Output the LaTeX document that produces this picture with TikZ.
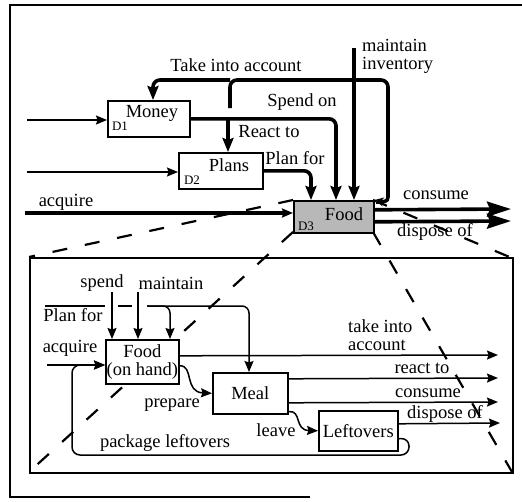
\documentclass[tikz,border=0pt]{standalone}
\usepackage{fontspec}
\setmainfont{Liberation Serif}
\usetikzlibrary{arrows.meta,positioning}

\tikzset{
  box/.style={draw,line width=1.6pt,fill=white,inner sep=0pt},
  flow/.style={line width=1.5pt},
  bigflow/.style={line width=3.6pt},
  tip/.style={-{Stealth[length=11pt,width=9pt,inset=1.5pt]}},
  bigtip/.style={-{Stealth[length=14pt,width=11pt,inset=2pt]}},
  hugetip/.style={-{Stealth[length=24pt,width=15pt,inset=3pt]}},
  zoomline/.style={line width=2.2pt,dash pattern=on 15pt off 18pt},
  lbl/.style={inner sep=0pt},
  tag/.style={inner sep=0pt,font=\fontsize{13}{13}\selectfont}
}

\begin{document}
\begin{tikzpicture}[x=1pt,y=-1pt,>=Stealth,font=\fontsize{18.5}{18}\selectfont]
\useasboundingbox (0,0) rectangle (522,501);
% frame
\draw[line width=1.6pt] (522,5) -- (10,5) -- (10,497) -- (310,497);

% zoom lines (drawn first, boxes sit on top)
\coordinate (fnw) at (293,200);
\coordinate (fne) at (373,200);
\coordinate (fsw) at (293,232);
\coordinate (fse) at (373,232);
\draw[zoomline] (fnw) -- (29,257);
\draw[zoomline] (fsw) -- (29,472);
\draw[zoomline] (fse) -- (512,472);
\draw[zoomline] (fne) -- (512,258);

% upper level boxes
\node[box,minimum width=82pt,minimum height=36pt,anchor=north west] (money) at (107,100) {};
\node[box,minimum width=84pt,minimum height=36pt,anchor=north west] (plans) at (178,152) {};
\node[box,fill=black!28,minimum width=80pt,minimum height=32pt,anchor=north west] (food) at (293,200) {};
\node[lbl] at (152,113) {Money};
\node[tag] at (120,126) {D1};
\node[lbl] at (229,165) {Plans};
\node[tag] at (192,180) {D2};
\node[lbl] at (344,214) {Food};
\node[tag] at (306,226) {D3};

% inputs
\coordinate (inm) at (27,120);
\coordinate (inp) at (27,172);
\coordinate (acq) at (25,213);
\draw[flow,tip] (inm) -- (inm -| money.west);
\draw[flow,tip] (inp) -- (inp -| plans.west);
\draw[bigflow,tip] (acq) -- (acq -| food.west);
\node[lbl] at (66,202) {acquire};

% take into account
\coordinate (tia) at (230,108);
\coordinate (tiat) at (230,80);
\coordinate (tial) at (153,80);
\draw[bigflow,rounded corners=7pt] (tia) |- (388,80) -- (388,190)
  .. controls (388,202) and (384,202) .. (376,202);
\draw[bigflow,-{Stealth[length=9pt,width=9pt]}] (384,202) -- (food.north east);
\draw[bigflow,bigtip,rounded corners=7pt] (tiat) -- (tial) -- (money.north -| tial);
\node[lbl] at (236,65) {Take into account};

% spend on, react to
\coordinate (spd) at (336,118);
\coordinate (rct) at (228,118);
\draw[bigflow,bigtip,rounded corners=7pt] (money.east) -| (food.north -| spd);
\draw[bigflow,bigtip] (rct) -- (rct |- plans.north);
\node[lbl] at (302,102) {Spend on};
\node[lbl] at (269,132) {React to};

% plan for
\coordinate (pfr) at (311,170);
\draw[bigflow,bigtip,rounded corners=7pt] (plans.east) -| (food.north -| pfr);
\node[lbl] at (295,158) {Plan for};

% maintain inventory
\coordinate (mnt) at (354,48);
\draw[bigflow,bigtip] (mnt) -- (mnt |- food.north);
\node[lbl,align=left,anchor=west] at (362,56) {maintain\\inventory};

% outputs
\coordinate (cons) at (511,209);
\coordinate (disp) at (511,221);
\draw[bigflow,hugetip] ([yshift=7pt]food.east) -- (cons);
\draw[bigflow,hugetip] ([yshift=-5pt]food.east) -- (disp);
\node[lbl] at (436,195) {consume};
\node[lbl] at (435,232) {dispose of};

% detail box
\node[draw,line width=2pt,minimum width=483pt,minimum height=215pt,anchor=north west] (detail) at (29,257) {};

\node[box,minimum width=73pt,minimum height=44pt,anchor=north west,align=center] (foodh) at (105,339) {Food\\(on hand)};
\node[box,minimum width=75pt,minimum height=41pt,anchor=north west] (meal) at (212,372) {Meal};
\node[box,minimum width=79pt,minimum height=40pt,anchor=north west] (left) at (318,410) {Leftovers};

% controls into food on hand
\coordinate (spn) at (112,292);
\coordinate (mtn) at (138,292);
\draw[flow,tip] (spn) -- (spn |- foodh.north);
\draw[flow,tip] (mtn) -- (mtn |- foodh.north);
\node[lbl] at (102,283) {spend};
\node[lbl] at (171,283) {maintain};

\coordinate (pf1) at (45,306);
\coordinate (pf2) at (105,306);
\coordinate (pf3) at (118,306);
\coordinate (pf4) at (132,306);
\coordinate (pf5) at (147,306);
\coordinate (pfb) at (170,306);
\draw[flow] (pf1) -- (pf2) (pf3) -- (pf4);
\draw[flow,tip,rounded corners=7pt] (pf5) -| (meal.north -| 249,0);
\draw[flow,tip,rounded corners=7pt] (pf5) -| (pfb |- foodh.north);
\node[lbl] at (73,315) {Plan for};

% acquire and package leftovers
\coordinate (acq2) at (47,365);
\draw[flow,tip] (acq2) -- (acq2 -| foodh.west);
\node[lbl] at (70,348) {acquire};
\draw[flow,tip,rounded corners=8pt] ([yshift=-8pt]left.east) -- (409,438) -- (409,455)
  -- (72,455) -- (72,365) -- (acq2 -| foodh.west);
\node[lbl] at (165,443) {package leftovers};

% prepare, leave
\draw[flow,tip] ([yshift=-4pt]foodh.east) .. controls (194,365) and (184,392) .. (meal.west);
\node[lbl] at (172,405) {prepare};
\draw[flow,tip] ([yshift=3pt]meal.south east) .. controls (302,410) and (294,430) .. (left.west);
\node[lbl] at (276,430) {leave};

% outputs of detail
\coordinate (otia) at (498,355);
\coordinate (orct) at (498,378);
\coordinate (ocns) at (498,402);
\coordinate (odsp) at (500,423);
\draw[flow,tip] ([yshift=6pt]foodh.east) -- (otia);
\draw[flow,tip] ([yshift=14.5pt]meal.east) -- (orct);
\draw[flow,tip] ([yshift=-9.5pt]meal.east) -- (ocns);
\draw[flow,tip] ([yshift=7pt]left.east) -- (odsp);
\node[lbl,align=left,anchor=west] at (348,335) {take into\\account};
\node[lbl] at (422,368) {react to};
\node[lbl] at (428,393) {consume};
\node[lbl] at (445,414) {dispose of};
\end{tikzpicture}
\end{document}
